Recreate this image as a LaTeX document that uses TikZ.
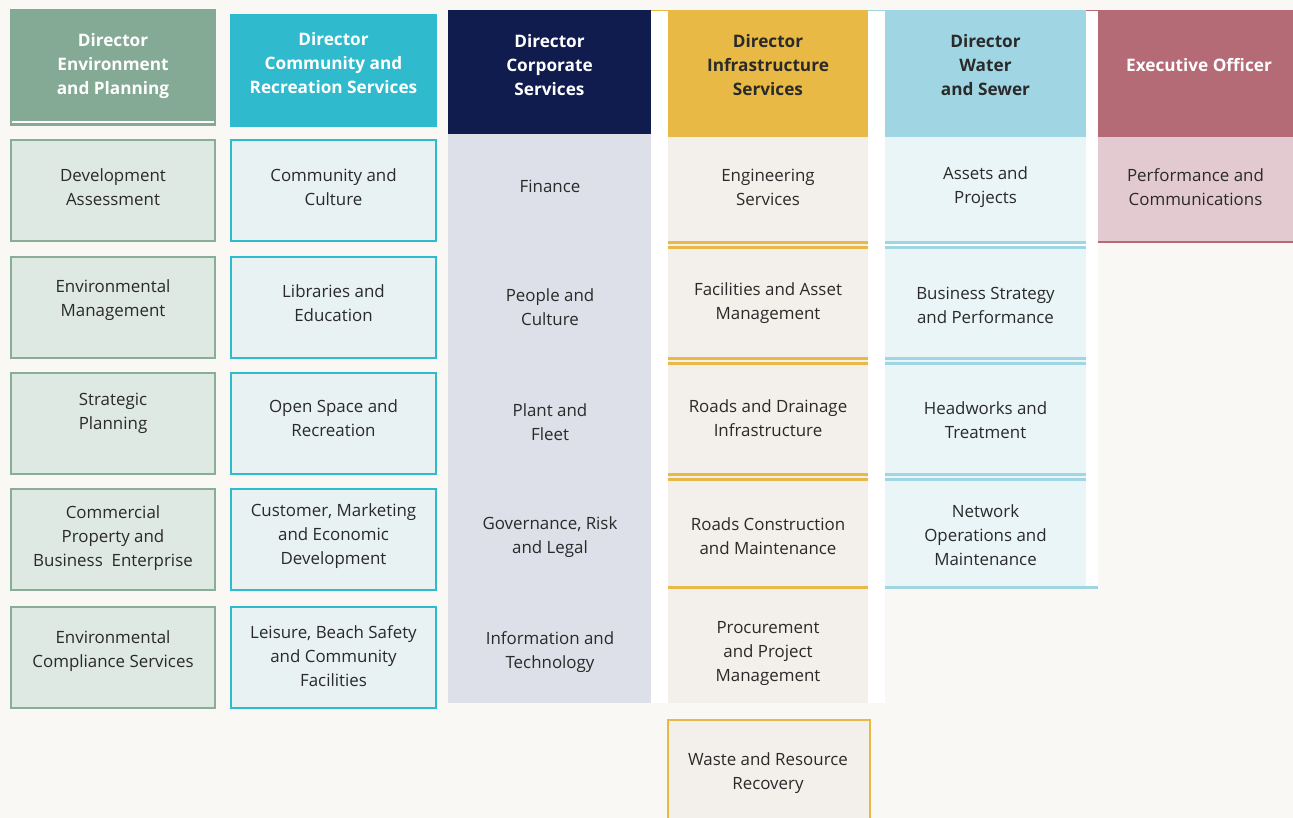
\documentclass[tikz,border=0pt]{standalone}
\usepackage{fontspec}
\setmainfont{Open Sans}
\definecolor{paper}{HTML}{F9F8F4}
\definecolor{ink}{HTML}{2A2A2A}
\definecolor{envH}{HTML}{84A994}
\definecolor{envL}{HTML}{88AE98}
\definecolor{envF}{HTML}{DFE9E3}
\definecolor{comH}{HTML}{2FBACD}
\definecolor{comF}{HTML}{E8F2F3}
\definecolor{corH}{HTML}{111C4E}
\definecolor{corF}{HTML}{DDE0E8}
\definecolor{infH}{HTML}{E8BA45}
\definecolor{infF}{HTML}{F3F0EB}
\definecolor{watH}{HTML}{A0D6E3}
\definecolor{watF}{HTML}{EAF5F7}
\definecolor{exeH}{HTML}{B56B76}
\definecolor{exeF}{HTML}{E3CAD1}
\newcommand\orgbody{\fontsize{16.9}{24}\selectfont}
\newcommand\orghead{\fontsize{17.2}{24}\selectfont\bfseries}
% a unit: its shape (style #1, name #2) at (#3,#4), its caption at (#3,#5)
\newcommand\orgunit[6]{%
  \node[#1] (#2) at (#3,#4) {};
  \node[body] (#2-txt) at (#3,#5) {#6};}
\begin{document}
\begin{tikzpicture}[x=1pt,y=-1pt,
  plain/.style={rectangle, inner sep=0pt, outer sep=0pt, align=center},
  body/.style={plain, font=\orgbody, text=ink},
  head/.style={plain, font=\orghead},
  envbox/.style={plain, draw=envL, fill=envF, line width=2pt, minimum width=204pt, minimum height=101pt},
  combox/.style={plain, draw=comH, fill=comF, line width=2pt, minimum width=204.5pt, minimum height=101pt},
  infcell/.style={plain, fill=infF, minimum width=200pt, minimum height=#1},
  watcell/.style={plain, fill=watF, minimum width=201pt, minimum height=#1},
  infrule/.style={draw=infH, line width=2.5pt},
  watrule/.style={draw=watH, line width=2.5pt}]

% page background
\fill[paper] (0,0) rectangle (1293,818);
\useasboundingbox (0,0) rectangle (1293,818);

% ---------- Environment and Planning ----------
\node[plain, fill=envH, minimum width=206pt, minimum height=117pt] (envHead) at (113,67.5) {};
\draw[white, line width=2pt] (12,122.5) -- (214,122.5);
\node[head, text=white] (envTitle) at (113,66) {Director\\Environment\\and Planning};
\orgunit{envbox}{env1}{113}{190.75}{187}{Development\\Assessment}
\orgunit{envbox}{env2}{113}{307.25}{300}{Environmental\\Management}
\orgunit{envbox}{env3}{113}{423.5}{413}{Strategic\\Planning}
\orgunit{envbox}{env4}{113}{539.75}{538}{Commercial\\Property and\\Business\ \ Enterprise}
\orgunit{envbox}{env5}{113}{657}{651}{Environmental\\Compliance Services}

% ---------- Community and Recreation Services ----------
\node[plain, fill=comH, minimum width=206.5pt, minimum height=113pt] (comHead) at (333.5,70.5) {};
\node[head, text=white] (comTitle) at (333.5,63) {Director\\Community and\\Recreation Services};
\orgunit{combox}{com1}{333.5}{190.75}{187}{Community and\\Culture}
\orgunit{combox}{com2}{333.5}{307.25}{303}{Libraries and\\Education}
\orgunit{combox}{com3}{333.5}{423.5}{418}{Open Space and\\Recreation}
\orgunit{combox}{com4}{333.5}{539.75}{536}{Customer, Marketing\\and Economic\\Development}
\orgunit{combox}{com5}{333.5}{657}{656.5}{Leisure, Beach Safety\\and Community\\Facilities}

% ---------- Corporate Services ----------
\node[plain, fill=corF, minimum width=203pt, minimum height=569pt] (corBody) at (549.5,418.5) {};
\node[plain, fill=corH, minimum width=203pt, minimum height=124pt] (corHead) at (549.5,72) {};
\node[head, text=white] (corTitle) at (549.5,65) {Director\\Corporate\\Services};
\node[body] (cor1) at (550,186) {Finance};
\node[body] (cor2) at (550,307) {People and\\Culture};
\node[body] (cor3) at (550,422) {Plant and\\Fleet};
\node[body] (cor4) at (550,537.5) {Governance, Risk\\and Legal};
\node[body] (cor5) at (550,652.5) {Information and\\Technology};

% ---------- Infrastructure Services ----------
\node[plain, fill=white, minimum width=234pt, minimum height=693pt] (infBack) at (768,356.5) {};
\draw[infH, line width=1pt] (651,10.5) -- (668,10.5);
\node[plain, fill=infH, minimum width=200pt, minimum height=127pt] (infHead) at (768,73.5) {};
\node[head, text=ink] (infTitle) at (768,65) {Director\\Infrastructure\\Services};
\orgunit{infcell=105pt}{inf1}{768}{189.5}{187.5}{Engineering\\Services}
\orgunit{infcell=116pt}{inf2}{768}{302.5}{303}{Facilities and Asset\\Management}
\orgunit{infcell=117pt}{inf3}{768}{419}{418.5}{Roads and Drainage\\Infrastructure}
\orgunit{infcell=112pt}{inf4}{768}{533.5}{536}{Roads Construction\\and Maintenance}
\orgunit{infcell=116pt}{inf5}{768}{645}{653.5}{Procurement\\and Project\\Management}
\foreach \yy in {242.5,247.5,358.5,363.5,474.5,479.5,587.5}
  \draw[infrule] (668,\yy) -- (868,\yy);
\node[plain, draw=infH, fill=infF, line width=2pt, minimum width=202pt, minimum height=106pt] (inf6) at (769,773) {};
\node[body] (inf6-txt) at (768,773) {Waste and Resource\\Recovery};

% ---------- Water and Sewer ----------
\node[plain, fill=white, minimum width=230pt, minimum height=577pt] (watBack) at (983,298.5) {};
\draw[watH, line width=1pt] (868,10.5) -- (885,10.5);
\node[plain, fill=watH, minimum width=201pt, minimum height=127pt] (watHead) at (985.5,73.5) {};
\node[head, text=ink] (watTitle) at (985.5,65) {Director\\Water\\and Sewer};
\orgunit{watcell=105pt}{wat1}{985.5}{189.5}{187.5}{Assets and\\Projects}
\orgunit{watcell=116pt}{wat2}{985.5}{304.5}{305.5}{Business Strategy\\and Performance}
\orgunit{watcell=117pt}{wat3}{985.5}{419.5}{420.5}{Headworks and\\Treatment}
\orgunit{watcell=108pt}{wat4}{985.5}{534.5}{535.5}{Network\\Operations and\\Maintenance}
\foreach \yy in {242.5,247.5,358.5,363.5,474.5,479.5}
  \draw[watrule] (885,\yy) -- (1086,\yy);
\draw[watrule] (885,587.5) -- (1098,587.5);

% ---------- Executive Officer ----------
\draw[exeH, line width=1pt] (1086,10.5) -- (1098,10.5);
\node[plain, fill=exeH, minimum width=195pt, minimum height=127pt] (exeHead) at (1195.5,73.5) {};
\node[head, text=white] (exeTitle) at (1199,65) {Executive Officer};
\orgunit{plain, fill=exeF, minimum width=195pt, minimum height=104pt}{exe1}{1195.5}{189}{187}{Performance and\\Communications}
\draw[exeH, line width=2.5pt] (1098,242) -- (1293,242);

\end{tikzpicture}
\end{document}
